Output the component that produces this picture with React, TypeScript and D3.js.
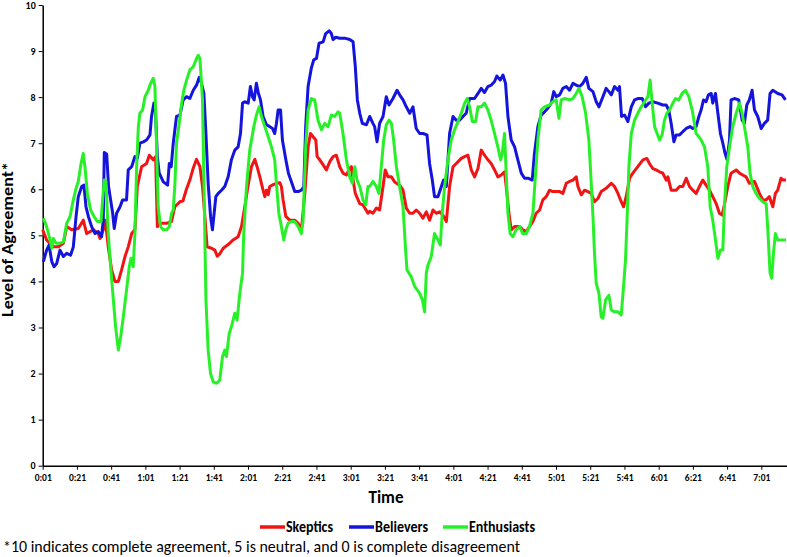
import React, { useEffect, useRef } from 'react';
import * as d3 from 'd3';

// time in seconds, level of agreement (0-10)
const skeptics: [number, number][] = [
  [1, 5.12], [3.3, 4.9], [7.2, 4.75], [10.1, 4.75], [13.1, 4.83], [15, 5.19], [17.9, 5.12], [21.8, 5.15],
  [24.7, 5.33], [26.7, 5.04], [30.6, 5.12], [33.5, 5.04], [34.5, 4.93], [36.4, 5.12], [37.6, 5.33], [39.3, 4.75],
  [41.3, 4.25], [43.2, 4.0], [45.2, 4.0], [47.1, 4.25], [49.1, 4.54], [51, 4.75], [53, 5.04], [54.9, 5.12],
  [56.3, 6.06], [58.8, 6.49], [61.7, 6.56], [63.3, 6.74], [65.6, 6.64], [67, 6.71], [68, 5.19], [70.5, 5.26],
  [73.4, 5.26], [76.3, 5.3], [78.2, 5.62], [81.2, 5.73], [83, 5.75], [85, 6.0], [87, 6.2], [88.9, 6.45],
  [90.9, 6.65], [92.9, 6.49], [94.4, 6.06], [95.8, 5.4], [97.1, 4.75], [99.7, 4.72], [101.6, 4.68], [103, 4.55],
  [104.5, 4.6], [106.5, 4.72], [109.4, 4.8], [112.3, 4.9], [115.2, 4.97], [117.2, 5.19], [119.1, 5.62], [121.1, 6.09],
  [123, 6.49], [125, 6.65], [126.3, 6.49], [127.9, 6.27], [129.8, 5.98], [130.8, 5.84], [131.8, 5.98], [132.8, 5.88],
  [133.7, 6.06], [135.7, 6.1], [137.6, 6.13], [139.6, 6.14], [140.5, 6.06], [141.5, 5.77], [143.1, 5.41], [145.4, 5.33],
  [148.3, 5.33], [150.3, 5.26], [152.2, 5.12], [154.2, 5.91], [156.1, 6.92], [157.5, 7.21], [159, 7.14], [160.6, 7.07],
  [161.4, 6.71], [162.9, 6.64], [164.9, 6.53], [166.8, 6.42], [168.8, 6.6], [170.7, 6.71], [172.6, 6.74], [174.6, 6.49],
  [176.5, 6.35], [178.5, 6.31], [180.4, 6.45], [181.4, 6.49], [182.4, 6.2], [183.7, 5.91], [186.3, 5.69], [188.2, 5.66],
  [191.1, 5.48], [192.1, 5.52], [194, 5.48], [196, 5.59], [197.9, 5.55], [199.9, 6.06], [201.2, 6.42], [202.8, 6.27],
  [204.8, 6.27], [206.7, 6.16], [209.6, 6.09], [211.6, 5.98], [213.5, 5.59], [215.5, 5.48], [217.4, 5.48], [219.3, 5.55],
  [221.3, 5.48], [223.2, 5.37], [225.2, 5.51], [227.1, 5.33], [229.1, 5.55], [231, 5.48], [233, 5.51], [234.9, 5.44],
  [236.9, 5.3], [238.8, 6.06], [240.8, 6.49], [242.7, 6.56], [245.6, 6.67], [247.6, 6.71], [249.5, 6.74], [251.5, 6.42],
  [253.4, 6.27], [255.4, 6.45], [257.3, 6.85], [259.2, 6.74], [261.2, 6.64], [263.1, 6.56], [265.1, 6.42], [267, 6.27],
  [269, 6.31], [270.9, 6.38], [271.9, 6.06], [273.5, 5.48], [274.8, 5.12], [276.8, 5.19], [279.7, 5.19], [281.6, 5.12],
  [283.6, 5.08], [285.5, 5.19], [287.5, 5.3], [289.4, 5.48], [291.4, 5.55], [293.3, 5.77], [295.3, 5.84], [297.2, 5.98],
  [299.1, 5.95], [301.1, 5.95], [303.1, 5.95], [305, 5.91], [307, 6.13], [308.9, 6.17], [310.9, 6.2], [312.8, 6.27],
  [313.8, 6.06], [315.8, 5.88], [317.7, 5.98], [319.6, 5.95], [321.6, 5.91], [323.5, 5.73], [325.5, 5.8], [327.4, 5.95],
  [330.3, 6.02], [333.3, 6.13], [335.2, 6.06], [337.2, 5.91], [339.1, 5.73], [340.5, 5.62], [342, 5.84], [344, 6.24],
  [345.9, 6.35], [348.8, 6.49], [351.8, 6.64], [354.1, 6.67], [355.6, 6.56], [357.6, 6.45], [359.5, 6.42], [361.5, 6.38],
  [363.4, 6.35], [365.4, 6.2], [366.4, 6.27], [368.3, 5.98], [371.2, 5.98], [373.2, 6.06], [375.1, 6.06], [377.1, 6.24],
  [379, 6.06], [380.9, 5.98], [382.9, 5.91], [384.8, 6.06], [386.8, 6.2], [388.7, 6.09], [390.7, 5.98], [392.6, 5.84],
  [394.6, 5.69], [396.5, 5.48], [398.1, 5.44], [399.4, 5.66], [401.4, 6.06], [403.3, 6.35], [406.3, 6.42], [408.2, 6.35],
  [410.1, 6.31], [412.1, 6.27], [414, 6.13], [417, 6.17], [419.9, 5.91], [421.8, 5.77], [423.8, 5.77], [425.7, 5.84],
  [427.7, 5.62], [429.2, 5.91], [430.6, 5.98], [432.5, 6.24], [433.9, 6.2], [435.4, 6.2],
];

const believers: [number, number][] = [
  [1.4, 4.43], [3.3, 4.68], [4.7, 4.79], [6.3, 4.43], [7.6, 4.32], [9.2, 4.39], [11.1, 4.68], [13.1, 4.54],
  [15, 4.61], [17.3, 4.57], [18.9, 4.75], [20.5, 5.41], [21.8, 5.84], [23.8, 6.06], [25.1, 6.09], [26.3, 5.62],
  [27.7, 5.41], [29.6, 5.19], [31.6, 5.04], [33.5, 5.08], [35.4, 4.97], [36.4, 5.33], [37, 6.8], [38.4, 6.76],
  [39.5, 6.06], [40.7, 5.77], [41.9, 5.48], [42.8, 5.15], [44.2, 5.48], [46.2, 5.62], [47.7, 5.77], [50, 5.77],
  [51, 6.42], [53, 6.49], [54.9, 6.71], [56.3, 6.67], [57.8, 7.0], [59.8, 7.03], [61.7, 7.07], [63.7, 7.18],
  [64.6, 7.58], [66, 7.87], [66.8, 7.79], [68, 6.71], [69.1, 6.35], [71.5, 6.16], [74, 6.09], [75, 6.56],
  [76.1, 6.49], [77.3, 7.0], [79.2, 7.58], [81.2, 7.61], [83.1, 7.94], [85.1, 8.01], [87, 7.97], [89, 8.15],
  [90.9, 8.26], [92.5, 8.43], [93.8, 8.3], [95.2, 8.08], [96.4, 7.21], [97.7, 6.13], [99.1, 5.41], [100.2, 5.12],
  [101.2, 5.48], [102.2, 5.84], [103.6, 5.91], [105.5, 5.98], [107.4, 6.06], [109.4, 6.27], [111.3, 6.64], [113.3, 6.85],
  [115.2, 6.92], [116.6, 7.21], [117.8, 7.87], [119.1, 7.9], [121.1, 7.87], [122.4, 8.23], [123.6, 8.01], [124.6, 7.94],
  [125.9, 8.3], [127.1, 8.08], [128.3, 7.94], [129.8, 7.58], [131.8, 7.4], [133.7, 7.36], [135.3, 7.32], [136.6, 7.21],
  [137.6, 7.43], [138.6, 7.72], [140, 7.72], [141.1, 7.07], [143.1, 6.64], [144.6, 6.35], [146.4, 6.16], [148.3, 5.95],
  [150.3, 5.95], [152.2, 5.98], [153.6, 6.06], [154.7, 7.36], [156.1, 8.23], [158, 8.63], [159.4, 8.81], [161, 8.84],
  [162.5, 9.17], [164.9, 9.2], [166.4, 9.38], [168.4, 9.44], [169.7, 9.38], [170.7, 9.25], [172.3, 9.3], [174.6, 9.28],
  [177.5, 9.28], [180.4, 9.25], [182.4, 9.2], [183.7, 8.66], [184.9, 7.94], [186.3, 7.65], [187.8, 7.43], [190.2, 7.4],
  [192.1, 7.58], [194, 7.43], [195, 7.36], [196.4, 7.03], [197.9, 7.43], [199.9, 7.58], [201.8, 8.01], [203.4, 7.83],
  [205.7, 7.97], [208.1, 8.15], [209.6, 8.05], [211.6, 7.94], [213.5, 7.79], [215.5, 7.65], [217.4, 7.79], [219.3, 7.32],
  [221.3, 7.21], [223.2, 7.21], [225.6, 7.18], [227.1, 6.56], [228.7, 6.2], [230, 5.84], [232, 5.84], [234, 6.06],
  [235.3, 6.2], [236.9, 6.06], [238.8, 7.21], [240.8, 7.58], [242.7, 7.5], [244.6, 7.5], [246.6, 7.58], [248.5, 7.65],
  [250.5, 7.97], [253.4, 7.97], [255.4, 8.08], [257.3, 8.19], [259.2, 8.1], [261.2, 8.23], [263.1, 8.26], [265.1, 8.34],
  [266.4, 8.46], [268.4, 8.37], [270, 8.48], [271.5, 8.3], [272.9, 7.58], [274.8, 7.07], [276.8, 6.92], [278.7, 6.64],
  [280.7, 6.35], [282.6, 6.24], [284.6, 6.24], [287.1, 6.2], [288.4, 6.78], [290.4, 7.36], [292.3, 7.61], [294.3, 7.68],
  [296.2, 7.76], [298.2, 7.87], [299.7, 8.12], [301.1, 8.01], [303.1, 8.05], [305, 8.19], [307, 8.23], [308.9, 8.15],
  [310.9, 8.3], [312.8, 8.26], [314.8, 8.23], [316.7, 8.3], [318.7, 8.43], [320.2, 8.19], [322.6, 8.12], [324.5, 7.9],
  [326.1, 7.79], [328, 7.97], [330.3, 8.19], [331.9, 8.12], [333.3, 8.05], [335.2, 8.23], [337.2, 8.15], [338.1, 8.23],
  [339.3, 7.58], [341.1, 7.61], [343, 7.47], [345, 7.79], [346.9, 7.94], [348.8, 7.97], [351.4, 7.97], [353.3, 7.79],
  [355.3, 7.87], [357.6, 7.9], [360.5, 7.87], [363.4, 7.83], [365.4, 7.83], [366.9, 7.72], [368.3, 7.43], [369.9, 7.03],
  [371.2, 7.18], [373.2, 7.18], [375.1, 7.25], [377.1, 7.32], [379.4, 7.36], [380.9, 7.32], [382.9, 7.36], [384.5, 7.58],
  [385.8, 7.72], [387.2, 7.94], [388.7, 7.9], [390.1, 8.05], [391.7, 8.08], [392.6, 7.87], [394.2, 8.08], [395.6, 7.65],
  [397.1, 7.21], [398.5, 7.0], [399.8, 6.78], [401, 6.64], [402.4, 7.07], [403.3, 7.94], [405.3, 7.97], [407.8, 7.94],
  [409.8, 7.5], [411.1, 7.43], [412.5, 7.83], [414, 7.94], [415.6, 8.15], [417, 7.72], [418.9, 7.58], [420.9, 7.32],
  [422.8, 7.43], [424.7, 7.5], [426.1, 8.08], [427.7, 8.15], [430.6, 8.08], [433.1, 8.05], [435.1, 7.94],
];

const enthusiasts: [number, number][] = [
  [1.4, 5.37], [3.3, 5.19], [5.3, 4.9], [6.3, 4.72], [7.2, 4.93], [8.8, 4.83], [11.1, 4.83], [13.1, 4.86],
  [14, 5.04], [15, 5.26], [17, 5.41], [18.9, 5.77], [20.5, 6.02], [21.8, 6.17], [23.4, 6.56], [24.7, 6.78],
  [25.7, 6.49], [27.1, 5.91], [29, 5.55], [31, 5.41], [32.9, 5.3], [35.1, 5.3], [36, 5.77], [37, 6.2],
  [38, 6.17], [39.3, 5.04], [40.7, 4.32], [42.3, 3.6], [43.6, 3.02], [45.2, 2.51], [46.6, 2.8], [48.1, 3.23],
  [50, 3.81], [51.6, 4.32], [52.6, 4.5], [53.9, 4.32], [54.9, 5.04], [55.9, 6.49], [56.9, 7.36], [57.8, 7.65],
  [59.4, 7.72], [60.8, 8.01], [62.7, 8.15], [64.1, 8.3], [65.6, 8.41], [66.6, 8.23], [67.6, 6.85], [68.5, 5.62],
  [69.9, 5.19], [71.5, 5.12], [73.4, 5.12], [75, 5.19], [76.3, 5.48], [77.3, 5.55], [78.3, 6.13], [79.2, 7.0],
  [80.8, 7.43], [82.2, 7.87], [83.5, 8.15], [85.1, 8.37], [87, 8.59], [89, 8.66], [90.9, 8.84], [91.9, 8.91],
  [92.9, 8.84], [94.4, 7.94], [95.4, 5.77], [96.4, 3.6], [97.7, 2.51], [99.1, 2.0], [100.6, 1.82], [102.6, 1.79],
  [104.5, 1.86], [106.1, 2.37], [107.4, 2.51], [108.4, 2.37], [110, 2.87], [111.3, 3.02], [113.3, 3.31], [114.6, 3.16],
  [116.2, 3.74], [117.8, 4.18], [118.5, 5.04], [120.1, 6.06], [122, 6.85], [124.4, 7.36], [125.9, 7.61], [127.5, 7.79],
  [128.9, 7.58], [130.8, 7.36], [132.8, 7.14], [134.7, 6.92], [136.6, 6.64], [137.6, 6.13], [139, 5.48], [140.5, 5.19],
  [141.9, 4.9], [143.1, 5.12], [144.4, 5.26], [146.4, 5.3], [148.3, 5.3], [150.3, 5.19], [152.2, 5.04], [153.2, 5.33],
  [154.7, 6.92], [156.1, 7.72], [158, 7.97], [160, 7.94], [161.9, 7.5], [163.9, 7.29], [165.8, 7.43], [167.8, 7.36],
  [169.7, 7.61], [171.7, 7.58], [173.6, 7.68], [174.6, 7.65], [176.5, 7.21], [178.5, 6.64], [180.4, 6.27], [182, 6.13],
  [183.4, 6.49], [184.7, 6.2], [186.3, 6.06], [188.2, 5.77], [189.8, 5.66], [191.1, 6.06], [192.1, 6.06], [194, 6.17],
  [196, 6.06], [197.5, 5.91], [198.9, 6.49], [200.3, 7.07], [201.8, 7.4], [203.4, 7.5], [204.8, 7.43], [206.1, 7.07],
  [207.7, 6.49], [209.6, 6.06], [211.6, 5.62], [213.1, 4.68], [213.9, 4.25], [216.4, 4.1], [218.4, 3.89], [221.3, 3.74],
  [222.9, 3.6], [224.2, 3.34], [225.2, 4.18], [226.2, 4.36], [228.1, 4.54], [230, 5.04], [232, 4.9], [233.4, 4.79],
  [234.5, 5.48], [235.9, 6.06], [237.8, 6.64], [239.8, 7.07], [241.7, 7.29], [243.7, 7.47], [245.6, 7.65], [247.6, 7.87],
  [249.1, 7.97], [250.5, 7.79], [252.1, 7.47], [254, 7.47], [255.4, 7.79], [257.3, 7.79], [259.2, 7.87], [261.2, 7.72],
  [263.1, 7.5], [265.1, 7.21], [267, 6.92], [268.6, 6.64], [269.6, 6.78], [270.9, 7.21], [271.9, 6.35], [272.9, 5.48],
  [274.2, 5.04], [275.8, 4.97], [277.7, 5.12], [279.7, 5.19], [281.6, 5.04], [283.6, 5.04], [285.5, 5.19], [287.5, 5.48],
  [288.8, 6.2], [290.4, 7.07], [292.3, 7.72], [294.3, 7.79], [297.2, 7.83], [299.1, 7.9], [301.1, 7.94], [302.7, 7.54],
  [304, 7.94], [306, 7.97], [308.9, 7.94], [310.9, 7.97], [312.8, 8.08], [314.4, 8.19], [316.3, 8.01], [318.3, 7.65],
  [320.2, 7.07], [321.6, 6.13], [322.6, 5.41], [323.5, 4.61], [324.5, 3.96], [326.1, 3.74], [327.4, 3.23], [328.4, 3.2],
  [330, 3.6], [331.9, 3.7], [333.3, 3.38], [335.2, 3.34], [337.2, 3.34], [339.1, 3.27], [340.5, 3.89], [341.6, 4.46],
  [342.6, 5.41], [343.6, 6.49], [345, 7.21], [346.9, 7.5], [348.8, 7.65], [350.8, 7.79], [352.7, 7.9], [354.7, 8.01],
  [356, 8.37], [357.2, 7.87], [358.6, 7.36], [360.1, 7.21], [361.5, 7.07], [363, 7.18], [364.4, 7.5], [365.8, 7.65],
  [367.3, 7.72], [369.3, 7.87], [370.8, 7.97], [372.8, 7.94], [374.7, 8.08], [376.7, 8.15], [378.6, 8.01], [380.6, 7.72],
  [381.9, 7.43], [382.9, 7.21], [384.5, 7.14], [385.8, 7.07], [387.8, 6.92], [389.7, 6.49], [391.1, 5.62], [392.6, 5.33],
  [394.2, 4.9], [395.6, 4.5], [397.1, 4.68], [398.5, 4.68], [399.4, 5.62], [400.8, 6.49], [402.4, 6.92], [404.3, 7.36],
  [406.3, 7.65], [408.2, 7.87], [409.8, 7.65], [411.1, 7.36], [413.1, 6.92], [414.4, 6.35], [416, 6.06], [417.9, 5.91],
  [419.9, 5.8], [421.8, 5.73], [423.8, 5.69], [424.7, 5.19], [426.1, 4.18], [427.1, 4.07], [428.1, 4.61], [429.2, 5.04],
  [430.6, 4.9], [432.5, 4.9], [435.4, 4.9],
];

const seriesNames = ['Skeptics', 'Believers', 'Enthusiasts'];
const seriesColors = ['#f01414', '#1414dc', '#28f028'];
const tickLabels = [
  '0:01', '0:21', '0:41', '1:01', '1:21', '1:41', '2:01', '2:21', '2:41', '3:01', '3:21',
  '3:41', '4:01', '4:21', '4:41', '5:01', '5:21', '5:41', '6:01', '6:21', '6:41', '7:01',
];
const footnote = '*10 indicates complete agreement, 5 is neutral, and 0 is complete disagreement';

const FONT = 'Carlito, Calibri, Lato, sans-serif';

const AgreementChart = () => {
  const svgRef = useRef<SVGSVGElement>(null);

  useEffect(() => {
    const svg = d3.select(svgRef.current);
    svg.selectAll('*').remove();

    const width = 787;
    const height = 557;
    const margin = { top: 5, right: 0, bottom: 91.3, left: 42.7 };

    const toSec = (s: string) => {
      const [m, sec] = s.split(':').map(Number);
      return m * 60 + sec;
    };

    const x = d3.scaleLinear()
      .domain([1, 436])
      .range([margin.left, width - margin.right]);

    const y = d3.scaleLinear()
      .domain([0, 10])
      .range([height - margin.bottom, margin.top]);

    // x axis
    const xAxis = svg.append('g')
      .attr('transform', `translate(0,${y(0)})`)
      .call(d3.axisBottom(x)
        .tickValues(tickLabels.map(toSec))
        .tickFormat((_, i) => tickLabels[i])
        .tickSize(4)
        .tickSizeOuter(0));
    xAxis.select('.domain').attr('stroke-width', 1.5);
    xAxis.selectAll('text')
      .attr('font-family', FONT).attr('font-size', 9.5).attr('font-weight', 'bold')
      .attr('fill', '#000').attr('dy', '0.9em');

    // y axis
    const yAxis = svg.append('g')
      .attr('transform', `translate(${margin.left},0)`)
      .call(d3.axisLeft(y).ticks(10).tickSize(4).tickSizeOuter(0));
    yAxis.select('.domain').attr('stroke-width', 1.5);
    yAxis.selectAll('text')
      .attr('font-family', FONT).attr('font-size', 10).attr('font-weight', 'bold').attr('fill', '#000');

    const line = d3.line<[number, number]>()
      .x(d => x(d[0]))
      .y(d => y(d[1]));

    [skeptics, believers, enthusiasts].forEach((data, i) => {
      svg.append('path')
        .datum(data)
        .attr('fill', 'none')
        .attr('stroke', seriesColors[i])
        .attr('stroke-width', 3)
        .attr('stroke-linejoin', 'round')
        .attr('d', line);
    });

    // axis titles
    svg.append('text')
      .attr('transform', 'translate(12.5,239.5) rotate(-90)')
      .attr('text-anchor', 'middle')
      .attr('font-family', FONT).attr('font-size', 15).attr('font-weight', 'bold')
      .attr('textLength', 155).attr('lengthAdjust', 'spacingAndGlyphs')
      .text('Level of Agreement*');

    svg.append('text')
      .attr('x', 386).attr('y', 503)
      .attr('text-anchor', 'middle')
      .attr('font-family', FONT).attr('font-size', 17).attr('font-weight', 'bold')
      .attr('textLength', 35).attr('lengthAdjust', 'spacingAndGlyphs')
      .text('Time');

    // legend
    const legendX = [260, 349, 443];
    const legendW = [47, 53, 66];
    const legend = svg.append('g');
    seriesNames.forEach((name, i) => {
      legend.append('line')
        .attr('x1', legendX[i]).attr('x2', legendX[i] + 25)
        .attr('y1', 527).attr('y2', 527)
        .attr('stroke', seriesColors[i]).attr('stroke-width', 3.5);
      legend.append('text')
        .attr('x', legendX[i] + 26).attr('y', 531.5)
        .attr('font-family', FONT).attr('font-size', 15).attr('font-weight', 'bold')
        .attr('textLength', legendW[i]).attr('lengthAdjust', 'spacingAndGlyphs')
        .text(name);
    });

    svg.append('text')
      .attr('x', 3).attr('y', 552)
      .attr('font-family', FONT).attr('font-size', 15.5)
      .attr('textLength', 517).attr('lengthAdjust', 'spacingAndGlyphs')
      .text(footnote);
  }, []);

  return (
    <svg ref={svgRef} width="787" height="557"
      style={{ position: 'absolute', left: 0, top: 0, background: '#fff' }} />
  );
};

export default function App() {
  return <AgreementChart />;
}
